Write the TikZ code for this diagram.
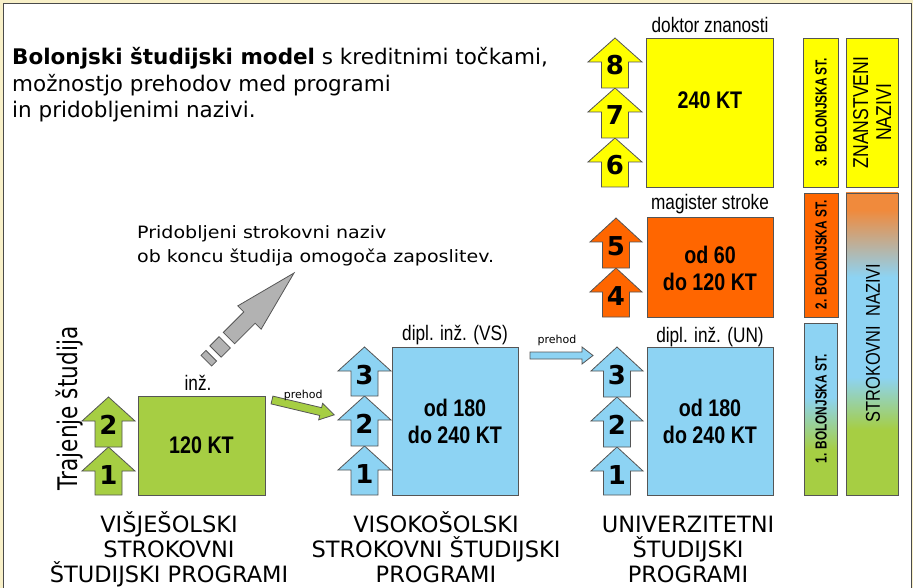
\documentclass[tikz,border=0pt]{standalone}
\usepackage{fontspec}
\setmainfont{DejaVu Sans}
\newfontfamily\verd[FakeStretch=1.12]{DejaVu Sans}
\newfontfamily\trj[FakeStretch=0.8]{DejaVu Sans}
\newfontfamily\nar[FakeStretch=0.82]{Liberation Sans}
\newfontfamily\narr[FakeStretch=0.74]{Liberation Sans}
\definecolor{gr}{HTML}{A6CE43}
\definecolor{bl}{HTML}{8DD3F3}
\definecolor{org}{HTML}{FF6600}
\definecolor{yel}{HTML}{FFFF00}
\definecolor{gry}{HTML}{B2B2B2}
\definecolor{edge}{HTML}{555555}
\definecolor{og2}{HTML}{F08A3C}
\definecolor{cream}{HTML}{F8F0C8}
\definecolor{frame}{HTML}{4A4A4A}
\pgfdeclareverticalshading{strokshade}{100bp}{color(0bp)=(gr); color(25bp)=(gr); color(35.8bp)=(gr); color(44.5bp)=(bl); color(61.1bp)=(bl); color(72.2bp)=(og2); color(100bp)=(og2)}
\pgfdeclareverticalshading{firstshade}{100bp}{color(0bp)=(gr); color(38bp)=(gr); color(53.5bp)=(bl); color(100bp)=(bl)}
\tikzset{
  arrline/.style={draw=edge, line width=0.8pt},
  boxline/.style={draw=edge, line width=0.9pt},
  numtext/.style={inner sep=0pt, anchor=base, font=\fontsize{26}{26}\selectfont\bfseries},
  boxtext/.style={inner sep=0pt, align=center, font=\nar\fontsize{24}{27}\selectfont\bfseries},
  lab/.style={inner sep=0pt, anchor=base, font=\nar\fontsize{21}{23}\selectfont},
  bartext/.style={inner sep=0pt, rotate=90, font=\narr\fontsize{16}{18}\selectfont\bfseries},
  bigbar/.style={inner sep=0pt, rotate=90, align=center, font=\nar\fontsize{21.5}{23}\selectfont},
  bottomlab/.style={inner sep=0pt, anchor=north, align=center, font=\fontsize{22.5}{25}\selectfont},
  titlef/.style={inner sep=0pt, anchor=base west, font=\fontsize{21.5}{24}\selectfont},
  notef/.style={inner sep=0pt, anchor=base west, font=\verd\fontsize{17}{20}\selectfont},
  smalltext/.style={inner sep=0pt, font=\fontsize{11}{12}\selectfont},
}
\newcommand\upar[7]{%
  \filldraw[arrline,fill=#6] ({(#2+#3)/2},#4) -- (#3,#4+24) -- ({(#2+#3)/2+13.5},#4+24)
    -- ({(#2+#3)/2+13.5},#5) -- ({(#2+#3)/2-13.5},#5) -- ({(#2+#3)/2-13.5},#4+24) -- (#2,#4+24) -- cycle;
  \node[numtext] (#1) at ({(#2+#3)/2},#4+37) {#7};}
\begin{document}
\begin{tikzpicture}[x=1pt,y=-1pt]
\useasboundingbox (0,0) rectangle (913,588);
\fill[cream] (0,0) rectangle (913,588);
\filldraw[fill=white, draw=frame, line width=1.5pt] (3.5,3.5) rectangle (911.5,600);

% title
\node[titlef] (t1) at (12,65) {\bfseries Bolonjski študijski model\mdseries{} s kreditnimi točkami,};
\node[titlef] (t2) at (12,91.5) {možnostjo prehodov med programi};
\node[titlef] (t3) at (12,118) {in pridobljenimi nazivi.};

% note
\node[notef] (n1) at (137,239) {Pridobljeni strokovni naziv};
\node[notef] (n2) at (137,262) {ob koncu študija omogoča zaposlitev.};

% duration
\node[inner sep=0pt, anchor=base, rotate=90, font=\trj\fontsize{27}{30}\selectfont] (traj) at (77,408.5) {Trajenje študija};

% gray arrow
\begin{scope}[shift={(294,273)}, rotate=45]
  \filldraw[arrline, fill=gry] (0,0) -- (-63,16.5) -- (-63,8) -- (-92,8) -- (-92,-8) -- (-63,-8) -- (-63,-16.5) -- cycle;
  \filldraw[arrline, fill=gry] (-98,-8) rectangle (-111,8);
  \filldraw[arrline, fill=gry] (-117,-7.5) rectangle (-124,7.5);
\end{scope}

% green column
\upar{g1}{82}{135}{447}{495}{gr}{1}
\upar{g2}{82}{135}{397}{447}{gr}{2}
\filldraw[boxline, fill=gr] (138,396) rectangle (265,495);
\node[boxtext] (gbox) at (201.5,445.5) {120 KT};
\node[lab] (inz) at (198,390) {inž.};

% green prehod
\begin{scope}[shift={(272,400)}, rotate=-13.4]
  \filldraw[arrline, fill=gr] (0,-4) -- (50,-4) -- (50,-8.5) -- (64,0) -- (50,8.5) -- (50,4) -- (0,4) -- cycle;
  \node[smalltext, anchor=base] (p1) at (30,-9) {prehod};
\end{scope}

% VS column
\upar{v1}{338}{391}{446}{495}{bl}{1}
\upar{v2}{338}{391}{396}{446}{bl}{2}
\upar{v3}{338}{391}{347}{396}{bl}{3}
\filldraw[boxline, fill=bl] (392,347) rectangle (518,495);
\node[boxtext] (vbox) at (455,421.5) {od 180\\do 240 KT};
\node[lab] (vslab) at (455,340) {dipl. inž. (VS)};

% blue prehod
\filldraw[arrline, fill=bl] (530,352) -- (582,352) -- (582,347) -- (593,355.5) -- (582,364) -- (582,359) -- (530,359) -- cycle;
\node[smalltext, anchor=base] (p2) at (557,343) {prehod};

% UN column
\upar{u1}{591}{643}{447}{495}{bl}{1}
\upar{u2}{591}{643}{397}{447}{bl}{2}
\upar{u3}{591}{643}{347}{397}{bl}{3}
\filldraw[boxline, fill=bl] (647,347) rectangle (773,495);
\node[boxtext] (ubox) at (710,421.5) {od 180\\do 240 KT};
\node[lab] (unlab) at (710,342) {dipl. inž. (UN)};

% master
\upar{o4}{590}{642}{268}{317}{org}{4}
\upar{o5}{590}{642}{218}{268}{org}{5}
\filldraw[boxline, fill=org] (647,217) rectangle (773,317);
\node[boxtext] (obox) at (710,268.5) {od 60\\do 120 KT};
\node[lab] (mlab) at (710,210) {magister stroke};

% doctor
\upar{y6}{588}{642}{138}{187}{yel}{6}
\upar{y7}{588}{642}{88}{138}{yel}{7}
\upar{y8}{588}{642}{38}{88}{yel}{8}
\filldraw[boxline, fill=yel] (646,38) rectangle (773,187);
\node[boxtext] (ybox) at (710,100) {240 KT};
\node[lab] (dlab) at (710,33) {doktor znanosti};

% side bars
\filldraw[boxline, fill=yel] (803,38) rectangle (838,187);
\node[bartext] (b3) at (821,112.5) {3. BOLONJSKA ST.};
\filldraw[boxline, fill=yel] (846,38) rectangle (898,187);
\node[bigbar] (zn) at (872,112.5) {ZNANSTVENI\\NAZIVI};
\filldraw[boxline, fill=org] (804,193) rectangle (838,317);
\node[bartext] (b2) at (821,255) {2. BOLONJSKA ST.};
\draw[boxline, shading=firstshade] (804,323) rectangle (837,495);
\node[bartext] (b1) at (821,409) {1. BOLONJSKA ST.};
\draw[boxline, shading=strokshade] (846,193) rectangle (898,495);
\node[bigbar, font=\nar\fontsize{20}{22}\selectfont] (sn) at (873,343) {STROKOVNI\ \ NAZIVI};

% bottom labels
\node[bottomlab] (c1) at (169,511) {VIŠJEŠOLSKI\\STROKOVNI\\ŠTUDIJSKI PROGRAMI};
\node[bottomlab] (c2) at (436,511) {VISOKOŠOLSKI\\STROKOVNI ŠTUDIJSKI\\PROGRAMI};
\node[bottomlab] (c3) at (688,511) {\vphantom{Š}UNIVERZITETNI\\ŠTUDIJSKI\\PROGRAMI};
\end{tikzpicture}
\end{document}
